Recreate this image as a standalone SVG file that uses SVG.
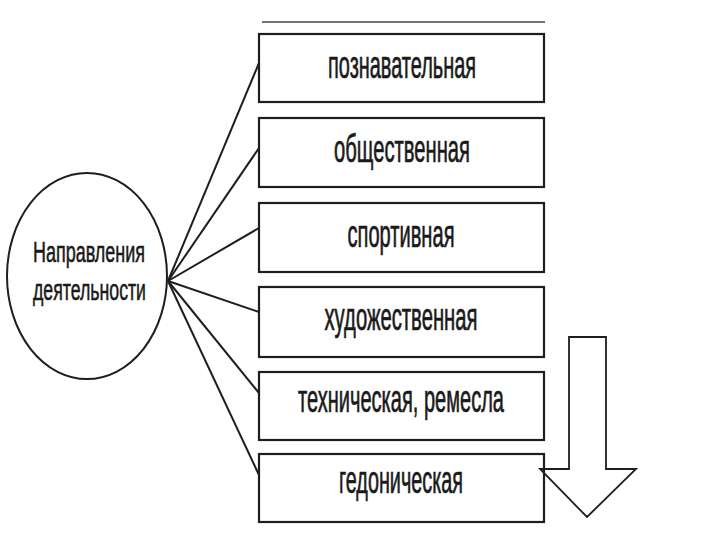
<svg xmlns="http://www.w3.org/2000/svg" width="720" height="540" viewBox="0 0 720 540">
<style>
.box{fill:#fff;stroke:#1e1e1e;stroke-width:2.2}
.lbl{font-family:"Liberation Sans",Arial,sans-serif;font-size:38px;fill:#1a1a1a;stroke:#1a1a1a;stroke-width:0.7;text-anchor:middle}
.clbl{font-family:"Liberation Sans",Arial,sans-serif;font-size:30px;fill:#1a1a1a;stroke:#1a1a1a;stroke-width:0.6}
.conn{stroke:#1e1e1e;stroke-width:2;fill:none}
</style>
<rect width="720" height="540" fill="#fff"/>
<line x1="262" y1="22" x2="545" y2="22" stroke="#444" stroke-width="1.5"/>
<g id="connectors">
<line class="conn" x1="168" y1="281" x2="259" y2="63"/>
<line class="conn" x1="168" y1="281" x2="259" y2="148"/>
<line class="conn" x1="168" y1="281" x2="259" y2="228"/>
<line class="conn" x1="168" y1="281" x2="259" y2="312"/>
<line class="conn" x1="168" y1="281" x2="259" y2="393"/>
<line class="conn" x1="168" y1="281" x2="259" y2="475"/>
</g>
<g id="center">
<ellipse cx="87" cy="276" rx="80" ry="103" fill="#fff" stroke="#1e1e1e" stroke-width="2"/>
<text class="clbl" x="33" y="262" textLength="112" lengthAdjust="spacingAndGlyphs">Направления</text>
<text class="clbl" x="33" y="300" textLength="113" lengthAdjust="spacingAndGlyphs">деятельности</text>
</g>
<g id="n1">
<rect class="box" x="259" y="34" width="285" height="68"/>
<text class="lbl" x="402" y="78" textLength="148" lengthAdjust="spacingAndGlyphs">познавательная</text>
</g>
<g id="n2">
<rect class="box" x="259" y="118" width="285" height="69"/>
<text class="lbl" x="402" y="162" textLength="136" lengthAdjust="spacingAndGlyphs">общественная</text>
</g>
<g id="n3">
<rect class="box" x="259" y="203" width="285" height="69"/>
<text class="lbl" x="401" y="247" textLength="107" lengthAdjust="spacingAndGlyphs">спортивная</text>
</g>
<g id="n4">
<rect class="box" x="259" y="287" width="285" height="70"/>
<text class="lbl" x="401" y="330" textLength="153" lengthAdjust="spacingAndGlyphs">художественная</text>
</g>
<g id="n5">
<rect class="box" x="259" y="372" width="285" height="68"/>
<text class="lbl" x="401" y="412" textLength="206" lengthAdjust="spacingAndGlyphs">техническая, ремесла</text>
</g>
<g id="n6">
<rect class="box" x="259" y="454" width="285" height="68"/>
<text class="lbl" x="401" y="493" textLength="124" lengthAdjust="spacingAndGlyphs">гедоническая</text>
</g>
<g id="arrow">
<polygon points="569,337 606,337 606,469 636,469 587,517 540,469 569,469" fill="none" stroke="#1e1e1e" stroke-width="1.8"/>
</g>
</svg>
